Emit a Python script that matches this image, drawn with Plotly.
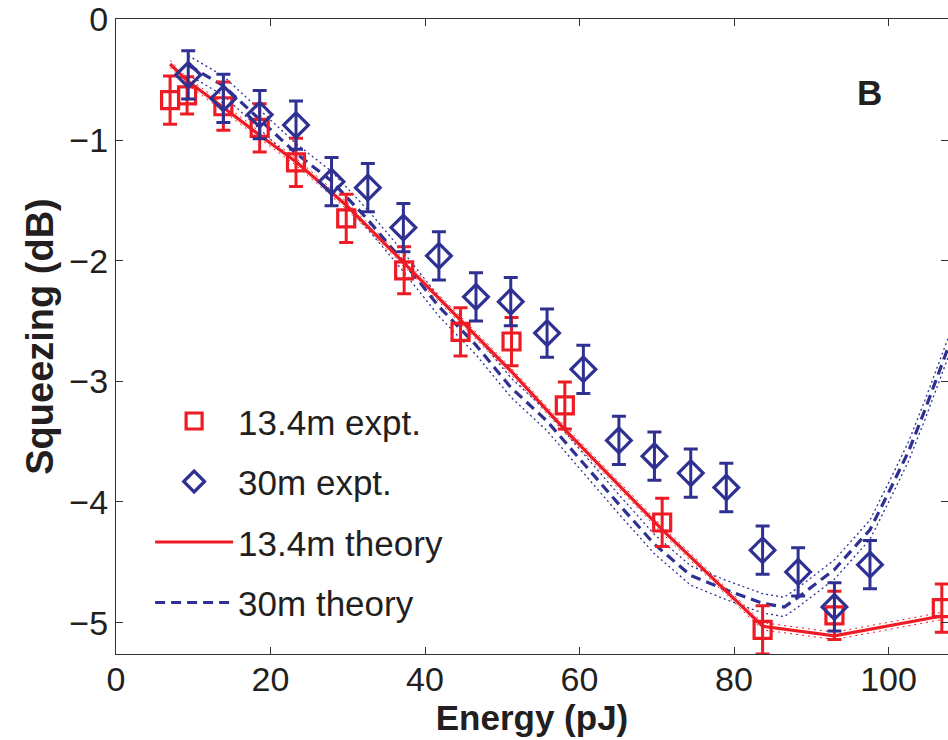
import plotly.graph_objects as go

# ---- data ----
red_x = [7.0, 9.2, 13.9, 18.6, 23.3, 29.8, 37.3, 44.6, 51.2, 58.1, 70.7, 83.7, 93.0, 106.9]
red_y = [-0.67, -0.63, -0.72, -0.90, -1.185, -1.65, -2.08, -2.59, -2.67, -3.20, -4.17, -5.06, -4.94, -4.88]
red_err = [0.2, 0.155, 0.2, 0.2, 0.2, 0.2, 0.195, 0.2, 0.2, 0.195, 0.2, 0.2, 0.2, 0.2]

blue_x = [9.35, 13.9, 18.6, 23.3, 27.9, 32.6, 37.2, 41.8, 46.6, 51.1, 55.8, 60.5, 65.1, 69.7,
          74.4, 79.0, 83.7, 88.3, 93.0, 97.6]
blue_y = [-0.46, -0.655, -0.79, -0.876, -1.345, -1.395, -1.726, -1.96, -2.30, -2.34, -2.60, -2.90,
          -3.49, -3.62, -3.76, -3.88, -4.40, -4.58, -4.87, -4.52]
blue_err = [0.2] * 20

red_th_x = [7.0, 9.2, 13.9, 18.6, 23.3, 29.8, 37.3, 44.6, 51.2, 58.1, 70.7, 83.7, 93.0, 106.9]
red_th_y = [-0.37, -0.51, -0.73, -0.96, -1.18, -1.54, -2.02, -2.49, -2.92, -3.40, -4.23, -5.03, -5.11, -4.945]
red_th_hi = [-0.34, -0.48, -0.70, -0.93, -1.15, -1.51, -1.99, -2.46, -2.89, -3.37, -4.20, -5.00, -5.08, -4.915]
red_th_lo = [-0.40, -0.54, -0.76, -0.99, -1.21, -1.57, -2.05, -2.52, -2.95, -3.43, -4.26, -5.06, -5.14, -4.975]

blue_th_x = [9.35, 13.9, 18.6, 23.3, 27.9, 32.6, 37.2, 41.8, 46.6, 51.1, 55.8, 60.5, 65.1, 69.7,
             74.4, 79.0, 83.7, 86.5, 88.3, 93.0, 97.6, 100.1, 102.6, 104.7, 106.9, 109.0]
blue_th_y = [-0.38, -0.55, -0.83, -1.11, -1.34, -1.66, -2.01, -2.38, -2.70, -3.05, -3.33, -3.68,
             -4.02, -4.35, -4.61, -4.73, -4.84, -4.87, -4.79, -4.56, -4.23, -3.91, -3.58, -3.24,
             -2.86, -2.50]
blue_th_hi = [-0.30, -0.47, -0.75, -1.03, -1.26, -1.58, -1.93, -2.30, -2.62, -2.97, -3.25, -3.60,
              -3.94, -4.27, -4.53, -4.65, -4.76, -4.79, -4.71, -4.48, -4.15, -3.83, -3.50, -3.16,
              -2.78, -2.42]
blue_th_lo = [-0.46, -0.63, -0.91, -1.19, -1.42, -1.74, -2.09, -2.46, -2.78, -3.13, -3.41, -3.76,
              -4.10, -4.43, -4.69, -4.81, -4.92, -4.95, -4.87, -4.64, -4.31, -3.99, -3.66, -3.32,
              -2.94, -2.58]

x_ticks = [0, 20, 40, 60, 80, 100]
y_ticks = [0, -1, -2, -3, -4, -5]
y_tick_text = ["0", "−1", "−2", "−3", "−4", "−5"]

RED = "#ED1C24"
BLUE = "#2E3192"
FONT = "Liberation Sans, Arial, Helvetica, sans-serif"
TXT = "#231F20"

fig = go.Figure()

# uncertainty bands (dotted)
for ys in (blue_th_hi, blue_th_lo):
    fig.add_trace(go.Scatter(x=blue_th_x, y=ys, mode="lines", showlegend=False, hoverinfo="skip",
                             line=dict(color=BLUE, width=1.3, dash="2px,3px")))
for ys in (red_th_hi, red_th_lo):
    fig.add_trace(go.Scatter(x=red_th_x, y=ys, mode="lines", showlegend=False, hoverinfo="skip",
                             line=dict(color=RED, width=1.0, dash="2px,4px")))

fig.add_trace(go.Scatter(x=blue_th_x, y=blue_th_y, mode="lines", name="30m theory",
                         legendgroup="d", legendrank=4,
                         line=dict(color=BLUE, width=3.2, dash="10px,6px")))
fig.add_trace(go.Scatter(x=red_th_x, y=red_th_y, mode="lines", name="13.4m theory",
                         legendgroup="c", legendrank=3,
                         line=dict(color=RED, width=3.2)))

fig.add_trace(go.Scatter(x=red_x, y=red_y, mode="markers", name="13.4m expt.",
                         legendgroup="a", legendrank=1,
                         marker=dict(symbol="square-open", size=17, color=RED, line=dict(width=3.2, color=RED)),
                         error_y=dict(type="data", array=red_err, visible=True, color=RED,
                                      thickness=3, width=7)))
fig.add_trace(go.Scatter(x=blue_x, y=blue_y, mode="markers", name="30m expt.",
                         legendgroup="b", legendrank=2,
                         marker=dict(symbol="diamond-open", size=19, color=BLUE, line=dict(width=3.2, color=BLUE)),
                         error_y=dict(type="data", array=blue_err, visible=True, color=BLUE,
                                      thickness=3, width=7)))

fig.add_annotation(x=97.5, y=-0.61, xref="x", yref="y", text="<b>B</b>", showarrow=False,
                   font=dict(family=FONT, size=35, color=TXT))

axis_common = dict(showgrid=False, zeroline=False, showline=True, linecolor="#333333", linewidth=1.2,
                   mirror="ticks", ticks="inside", ticklen=7, tickwidth=1.2, tickcolor="#333333",
                   tickfont=dict(family=FONT, size=34, color=TXT))

fig.update_layout(
    width=948, height=740,
    margin=dict(l=116, r=0, t=19, b=86),
    paper_bgcolor="white", plot_bgcolor="white",
    xaxis=dict(range=[0, 107.7], tickvals=x_ticks, ticktext=[str(v) for v in x_ticks],
               ticklabelstandoff=-5,
               title=dict(text="<b>Energy (pJ)</b>", font=dict(family=FONT, size=35, color=TXT), standoff=4),
               **axis_common),
    yaxis=dict(range=[-5.26, 0.003], tickvals=y_ticks, ticktext=y_tick_text,
               title=dict(text="<b>Squeezing (dB)</b>", font=dict(family=FONT, size=38, color=TXT), standoff=4),
               **axis_common),
    legend=dict(x=0.041, y=0.413, xanchor="left", yanchor="top", bgcolor="rgba(0,0,0,0)",
                font=dict(family=FONT, size=35, color=TXT), traceorder="grouped", tracegroupgap=12,
                itemwidth=78),
    showlegend=True,
)

fig.write_html("out.html")
